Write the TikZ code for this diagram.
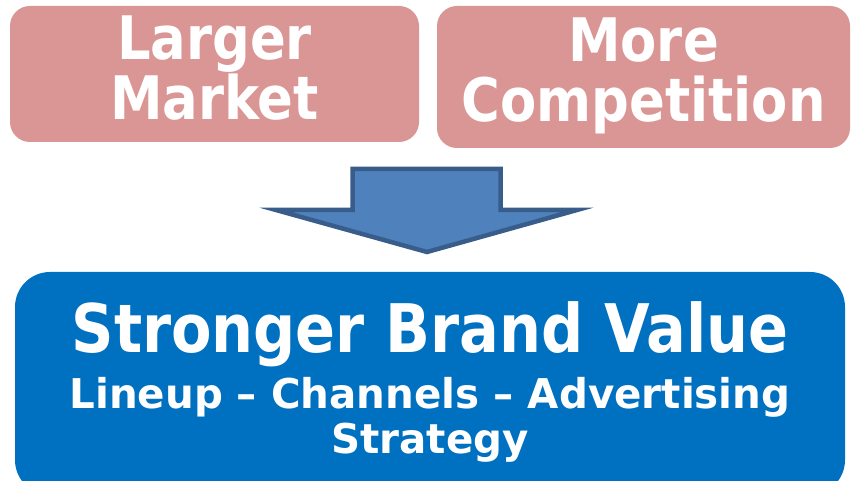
\documentclass[tikz,border=0pt]{standalone}
\usepackage{fontspec}
\setmainfont{DejaVu Sans}
\newfontfamily\narrowsans{DejaVu Sans}[FakeStretch=0.88]
\newfontfamily\subsans{DejaVu Sans}[FakeStretch=0.985]
\definecolor{rosefill}{HTML}{D99694}
\definecolor{arrowfill}{HTML}{4F81BD}
\definecolor{arrowline}{HTML}{385D8A}
\definecolor{brandblue}{HTML}{0070C0}
\begin{document}
\begin{tikzpicture}[x=1pt,y=1pt,
  topbox/.style={fill=rosefill,draw=none,rectangle,rounded corners=20pt,inner sep=0pt},
  bigtext/.style={text=white,font=\narrowsans\fontsize{60}{66}\selectfont\bfseries,anchor=base,inner sep=0pt},
  headtext/.style={text=white,font=\narrowsans\fontsize{67}{74}\selectfont\bfseries,anchor=base,inner sep=0pt},
  subtext/.style={text=white,font=\subsans\fontsize{41}{46}\selectfont\bfseries,anchor=base,inner sep=0pt}]
\useasboundingbox (0,0) rectangle (852,480);
\clip (0,0) rectangle (852,480);
% two cause boxes
\node[topbox,minimum width=409pt,minimum height=136pt] (market) at (214.5,406) {};
\node[topbox,minimum width=413pt,minimum height=142pt] (competition) at (643.5,403) {};
\node[bigtext] (l1) at (market.center |- 0,420) {Larger};
\node[bigtext] (l2) at (market.center |- 0,360) {Market};
\node[bigtext] (r1) at (competition.center |- 0,418) {More};
\node[bigtext] (r2) at (competition.center |- 0,358) {Competition};
% downward block arrow
\draw[fill=arrowfill,draw=arrowline,line width=4.5pt,line join=miter]
  (352.5,311) -- (500.5,311) -- (500.5,270) -- (577,270) -- (427,228)
  -- (276,270) -- (352.5,270) -- cycle;
% result box
\node[fill=brandblue,rectangle,rounded corners=35pt,inner sep=0pt,
  minimum width=830pt,minimum height=223pt] (brand) at (430,96.5) {};
\node[headtext] (h1) at (brand.center |- 0,128) {Stronger Brand Value};
\node[subtext] (h2) at (brand.center |- 0,72) {Lineup – Channels – Advertising};
\node[subtext] (h3) at (brand.center |- 0,27) {Strategy};
\end{tikzpicture}
\end{document}
